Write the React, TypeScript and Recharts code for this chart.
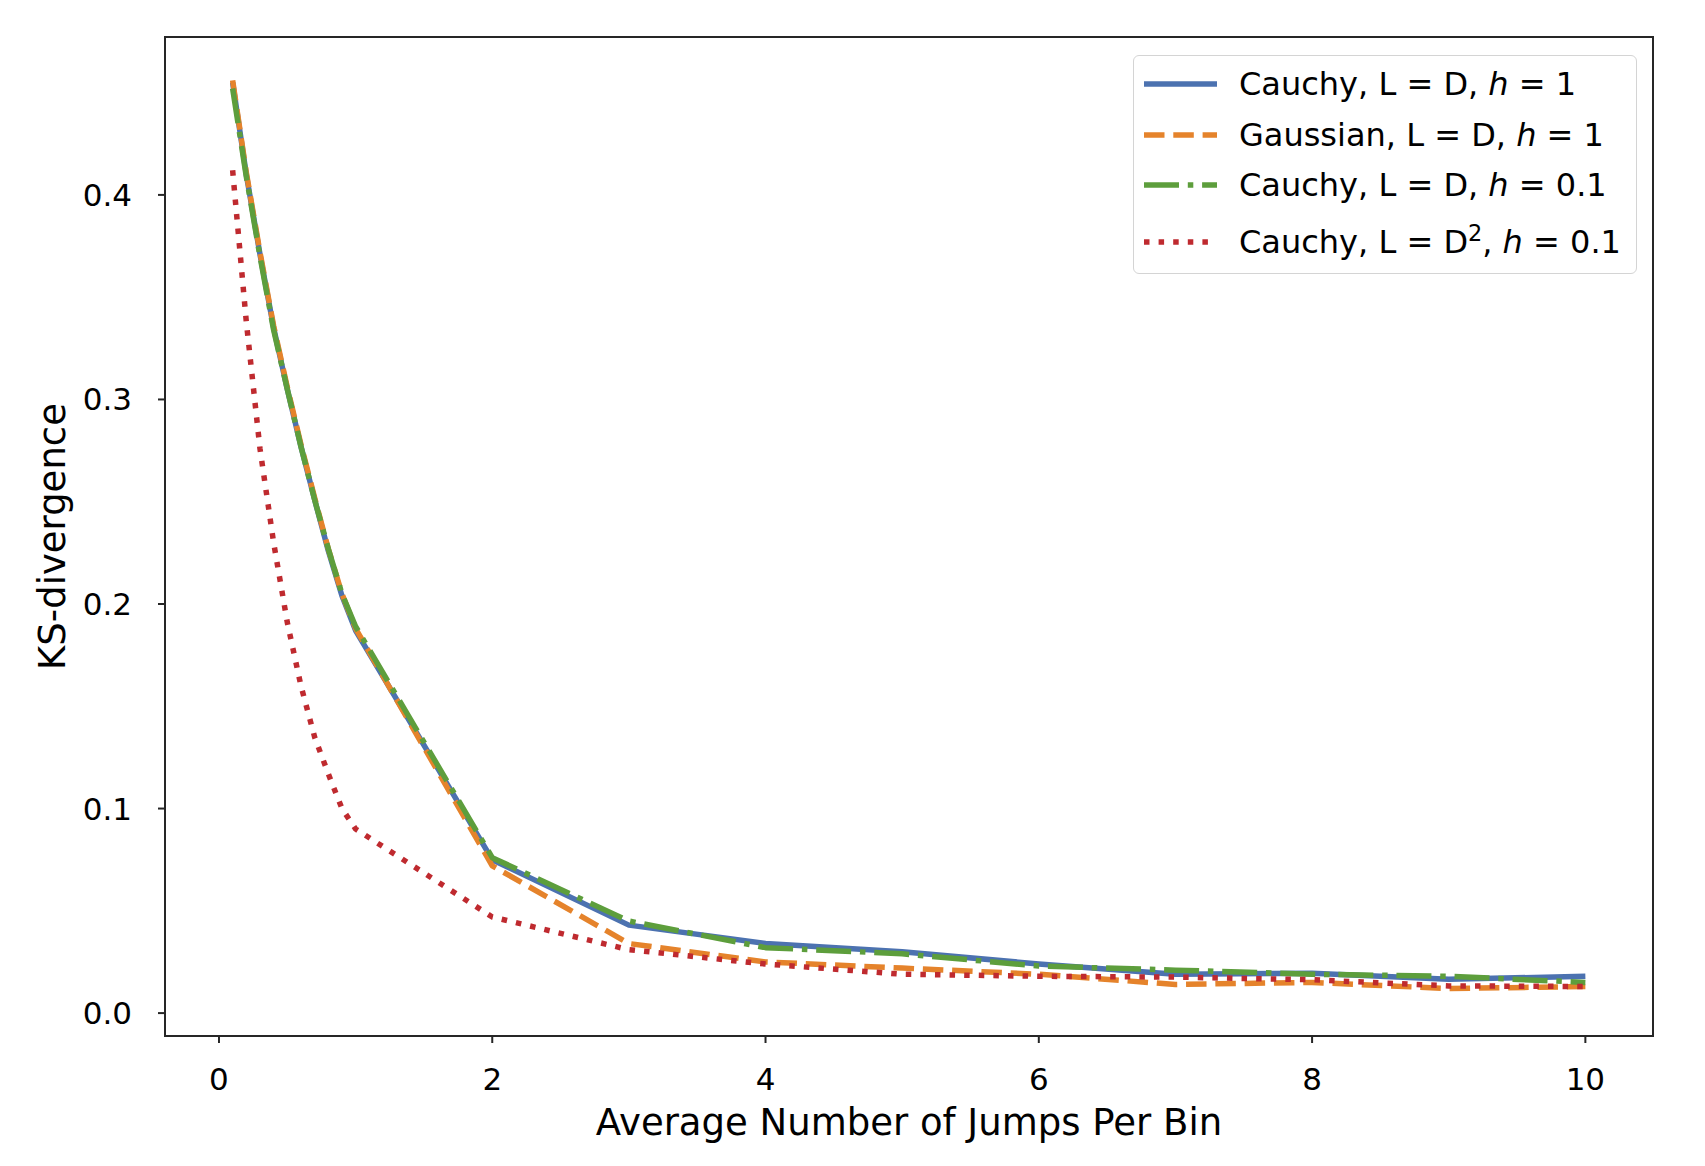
import { LineChart, Line, XAxis, YAxis, ReferenceArea } from "recharts";

// mean number of jumps per bin
const JUMPS = [0.1, 0.2, 0.3, 0.4, 0.5, 0.6, 0.7, 0.8, 0.9, 1, 2, 3, 4, 5, 6, 7, 8, 9, 10];

const CAUCHY_H1 = [0.455, 0.41, 0.371, 0.335, 0.305, 0.277, 0.251, 0.226, 0.204, 0.187, 0.075, 0.043, 0.034, 0.03, 0.024, 0.019, 0.0195, 0.0165, 0.018];
const GAUSS_H1 = [0.456, 0.411, 0.372, 0.336, 0.306, 0.278, 0.252, 0.227, 0.205, 0.188, 0.072, 0.034, 0.025, 0.022, 0.019, 0.014, 0.015, 0.012, 0.013];
const CAUCHY_H01 = [0.452, 0.409, 0.37, 0.334, 0.305, 0.277, 0.251, 0.227, 0.205, 0.189, 0.076, 0.045, 0.032, 0.029, 0.023, 0.021, 0.019, 0.018, 0.015];
const CAUCHY_D2_H01 = [0.412, 0.338, 0.276, 0.23, 0.191, 0.16, 0.135, 0.117, 0.1, 0.09, 0.047, 0.031, 0.024, 0.019, 0.018, 0.0176, 0.0163, 0.0133, 0.013];

const X_TICKS = [0, 2, 4, 6, 8, 10];
const Y_TICKS = [0, 0.1, 0.2, 0.3, 0.4];
const X_DOMAIN = [-0.395, 10.495];
const Y_DOMAIN = [-0.0112, 0.4772];

const SERIES = [
  { key: "cauchyH1", label: "Cauchy, L = D, h = 1", color: "#4c72b0", dash: undefined },
  { key: "gaussH1", label: "Gaussian, L = D, h = 1", color: "#e5832b", dash: "20.5 8.8" },
  { key: "cauchyH01", label: "Cauchy, L = D, h = 0.1", color: "#5d9e3c", dash: "35 8.8 5.5 8.8" },
  { key: "cauchyD2H01", label: "Cauchy, L = D^2, h = 0.1", color: "#bf2a2f", dash: "5.5 9.1" },
];

const data = JUMPS.map((x, i) => ({
  x,
  cauchyH1: CAUCHY_H1[i],
  gaussH1: GAUSS_H1[i],
  cauchyH01: CAUCHY_H01[i],
  cauchyD2H01: CAUCHY_D2_H01[i],
}));

const FONT = "'DejaVu Sans', sans-serif";
const AXIS = "#262626";
const LW = 5.5;

// "h" in italics, "D^2" as superscript, like the mathtext labels
function LegendText({ text }: { text: string }) {
  const parts = text.split(/(\bh\b|\^2)/);
  return (
    <span>
      {parts.map((p, i) =>
        p === "h" ? (
          <i key={i}>h</i>
        ) : p === "^2" ? (
          <span key={i} style={{ fontSize: "0.7em", position: "relative", top: "-0.55em" }}>2</span>
        ) : (
          <span key={i}>{p}</span>
        )
      )}
    </span>
  );
}

const ROW_Y = [28, 79, 129, 186];

export default function App() {
  return (
    <div style={{ position: "relative", width: 1705, height: 1166, fontFamily: FONT, background: "#fff" }}>
      <style>{"body{margin:0}"}</style>
      <LineChart width={1705} height={1166} data={data} margin={{ top: 37, right: 52, bottom: 31, left: 0 }}>
        <XAxis
          dataKey="x"
          type="number"
          domain={X_DOMAIN}
          ticks={X_TICKS}
          allowDataOverflow
          height={99}
          axisLine={false}
          tickLine={{ stroke: AXIS, strokeWidth: 2 }}
          tickSize={7}
          tickMargin={25}
          tick={{ fontSize: 31, fill: "#000" }}
          label={{ value: "Average Number of Jumps Per Bin", position: "insideBottom", offset: 0, fontSize: 37, fill: "#000" }}
        />
        <YAxis
          type="number"
          domain={Y_DOMAIN}
          ticks={Y_TICKS}
          allowDataOverflow
          width={165}
          axisLine={false}
          tickLine={{ stroke: AXIS, strokeWidth: 2 }}
          tickSize={7}
          tickMargin={26}
          tickFormatter={(v: number) => v.toFixed(1)}
          tick={{ fontSize: 31, fill: "#000" }}
          label={{
            value: "KS-divergence",
            angle: -90,
            position: "insideLeft",
            offset: 52,
            fontSize: 37,
            fill: "#000",
            style: { textAnchor: "middle" },
          }}
        />
        {SERIES.map((s) => (
          <Line
            key={s.key}
            type="linear"
            dataKey={s.key}
            stroke={s.color}
            strokeWidth={LW}
            strokeDasharray={s.dash}
            strokeLinecap="butt"
            strokeLinejoin="round"
            dot={false}
            activeDot={false}
            isAnimationActive={false}
          />
        ))}
        <ReferenceArea
          x1={X_DOMAIN[0]}
          x2={X_DOMAIN[1]}
          y1={Y_DOMAIN[0]}
          y2={Y_DOMAIN[1]}
          fill="none"
          stroke={AXIS}
          strokeWidth={2}
          ifOverflow="visible"
        />
      </LineChart>
      <div
        style={{
          position: "absolute",
          left: 1133,
          top: 55,
          width: 504,
          height: 219,
          boxSizing: "border-box",
          border: "1.5px solid #d4d4d4",
          borderRadius: 6,
          background: "rgba(255,255,255,0.8)",
        }}
      >
        {SERIES.map((s, i) => (
          <div key={s.key} style={{ position: "absolute", left: 0, top: ROW_Y[i] - 25, height: 50, display: "flex", alignItems: "center" }}>
            <svg width={83} height={20} style={{ marginLeft: 10 }}>
              <line x1={0} x2={73} y1={10} y2={10} stroke={s.color} strokeWidth={LW} strokeDasharray={s.dash} />
            </svg>
            <span style={{ marginLeft: 12, fontSize: 32, color: "#000", whiteSpace: "nowrap" }}>
              <LegendText text={s.label} />
            </span>
          </div>
        ))}
      </div>
    </div>
  );
}
